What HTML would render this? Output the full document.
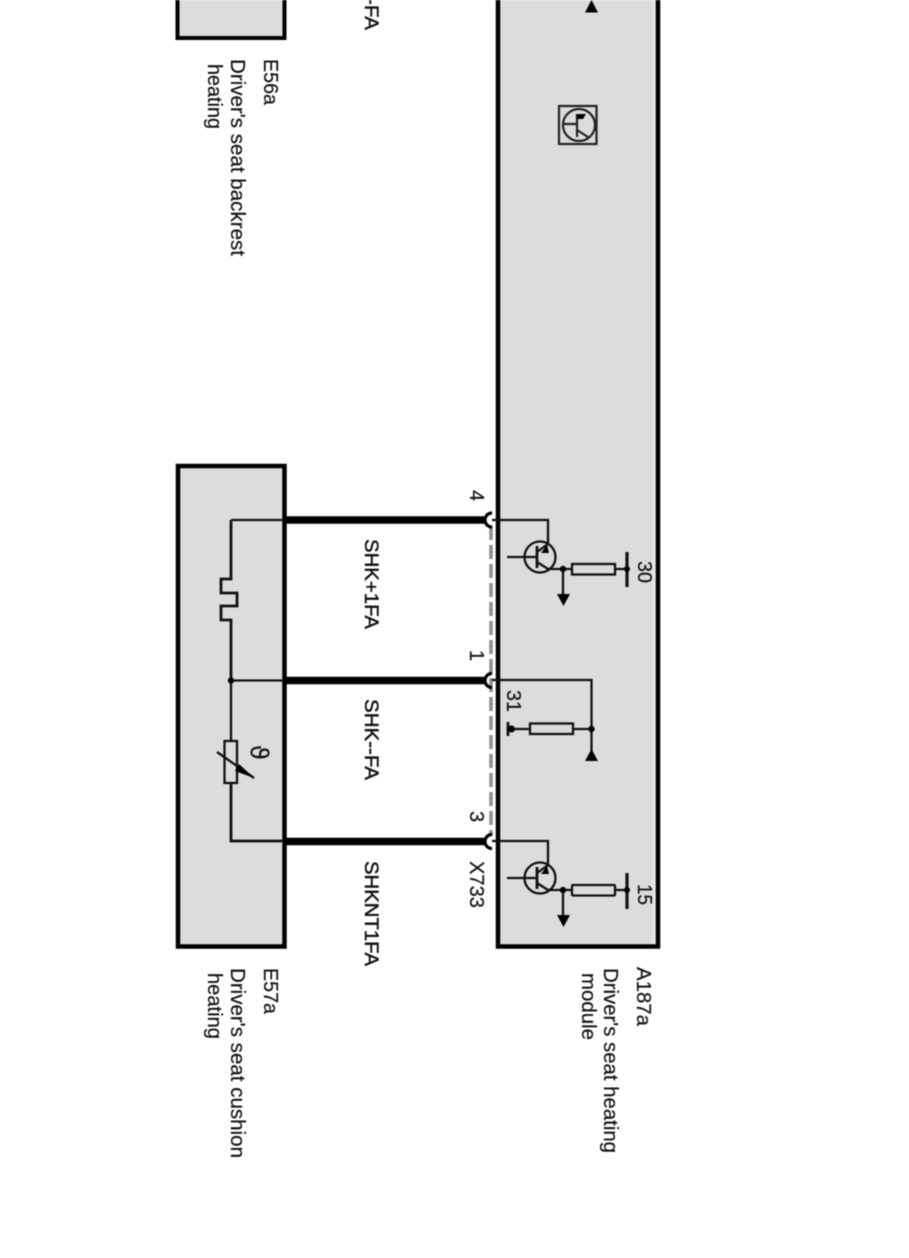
<!DOCTYPE html>
<html>
<head>
<meta charset="utf-8">
<style>
html,body{margin:0;padding:0;background:#fff;width:909px;height:1258px;overflow:hidden}
svg{display:block;filter:blur(0.4px)}
text{font-family:"Liberation Sans",sans-serif;font-size:20px;fill:#111;stroke:#111;stroke-width:.2}
.w{font-size:19.5px;stroke:#111;stroke-width:.45}
</style>
</head>
<body>
<svg width="909" height="1258" viewBox="0 0 909 1258" xmlns="http://www.w3.org/2000/svg">
<rect width="909" height="1258" fill="#fff"/>

<!-- boxes -->
<rect x="177.500" y="-10" width="107" height="48" fill="#dcdcdc" stroke="#000" stroke-width="4"/>
<rect x="178" y="466" width="106.500" height="480.500" fill="#dcdcdc" stroke="#000" stroke-width="4.500"/>
<rect x="498" y="-10" width="160" height="956.500" fill="#dcdcdc" stroke="#000" stroke-width="4.500"/>
<rect x="652" y="0" width="3.500" height="944" fill="#e6e6e6"/>

<!-- dashed line -->
<line x1="491" y1="526" x2="491" y2="836" stroke="#8f8f8f" stroke-width="3.500" stroke-dasharray="14 5"/>

<!-- thick wires -->
<g stroke="#000" stroke-width="7.500" fill="none">
<line x1="284" y1="520" x2="486" y2="520"/>
<line x1="284" y1="680.500" x2="486" y2="680.500"/>
<line x1="284" y1="841.500" x2="486" y2="841.500"/>
</g>
<!-- connector cups -->
<g stroke="#000" stroke-width="3.200" fill="none">
<path d="M492 513 A7 7 0 0 0 492 527"/>
<path d="M492 673.500 A7 7 0 0 0 492 687.500"/>
<path d="M492 834.500 A7 7 0 0 0 492 848.500"/>
</g>

<!-- E57a interior -->
<g stroke="#111" stroke-width="2.300" fill="none">
<path d="M284 520 H231"/>
<path d="M231 520 V579 H221 V593 H237 V606 H221 V620 H231 V680" stroke-width="2.800"/>
<path d="M284 680.500 H231 V741"/>
<rect x="224.500" y="741" width="12.500" height="42" fill="#dcdcdc"/>
<path d="M231 783 V841 H284" stroke-width="2.800"/>
<path d="M217 752 L254 778"/>
</g>
<polygon points="254,778 239,764 235,771" fill="#000"/>
<circle cx="231" cy="680.500" r="3.200" fill="#000"/>

<!-- Transistor 1 -->
<g stroke="#111" stroke-width="2.300" fill="none">
<path d="M492 520 H548 V544 L537 552"/>
<circle cx="540" cy="557" r="15.500"/>
<path d="M507 557 H537"/>
<path d="M537 546 V568" stroke-width="2.800"/>
<path d="M537 562 L548 569 H572"/>
<rect x="572" y="564" width="43" height="10.500" fill="#dcdcdc"/>
<path d="M615 569 H627"/>
<path d="M563 569 V595"/>
<path d="M627 552 V587" stroke-width="3.200"/>
</g>
<polygon points="547,545 541,553 549,553" fill="#000"/>
<polygon points="557,594 570,594 563.500,606" fill="#000"/>
<circle cx="563" cy="569" r="3.200" fill="#000"/>
<circle cx="627" cy="569" r="3" fill="#000"/>

<!-- Middle -->
<g stroke="#111" stroke-width="2.300" fill="none">
<path d="M492 680 H591.500 V751"/>
<path d="M512 729 H530"/>
<rect x="530" y="723.500" width="43" height="10.500" fill="#dcdcdc"/>
<path d="M573 729 H591"/>
<path d="M508 722 V736" stroke-width="2.800"/>
</g>
<polygon points="585,761 598,761 591.500,749" fill="#000"/>
<circle cx="591.500" cy="729" r="3.200" fill="#000"/>
<circle cx="511.500" cy="729" r="3.500" fill="#000"/>

<!-- Transistor 3 -->
<g stroke="#111" stroke-width="2.300" fill="none">
<path d="M492 841 H548 V865 L537 873"/>
<circle cx="540" cy="878" r="15.500"/>
<path d="M507 878 H537"/>
<path d="M537 867 V889" stroke-width="2.800"/>
<path d="M537 883 L548 890 H572"/>
<rect x="572" y="885" width="43" height="10.500" fill="#dcdcdc" rx="1"/>
<path d="M615 890 H627"/>
<path d="M563 890 V915"/>
<path d="M627 873 V909" stroke-width="3.200"/>
</g>
<polygon points="547,866 541,874 549,874" fill="#000"/>
<polygon points="557,915 570,915 563.500,927" fill="#000"/>
<circle cx="563" cy="890" r="3.200" fill="#000"/>
<circle cx="627" cy="890" r="3" fill="#000"/>

<!-- Top triangle -->
<polygon points="585,12.500 598,12.500 591.500,0" fill="#000"/>

<!-- Transistor icon -->
<g stroke="#222" fill="none">
<rect x="559" y="106" width="37.500" height="38" stroke-width="2.200"/>
<circle cx="579" cy="125" r="16" stroke-width="2.200"/>
<path d="M563 124 H577 M577 114 V137 M577 130 L588 137" stroke-width="2.200"/>
</g>
<polygon points="577,114 586,114 583,119 577,119" fill="#000"/>

<g transform="translate(2,0)">
<text transform="translate(249,745) rotate(90)" style="font-family:'DejaVu Sans',sans-serif;font-size:24px">ϑ</text>

<!-- Wire labels -->
<text class="w" transform="translate(363,-51) rotate(90)" textLength="81" lengthAdjust="spacingAndGlyphs">SHK--FA</text>
<text class="w" transform="translate(363,539) rotate(90)" textLength="90" lengthAdjust="spacingAndGlyphs">SHK+1FA</text>
<text class="w" transform="translate(363,699) rotate(90)" textLength="81" lengthAdjust="spacingAndGlyphs">SHK--FA</text>
<text class="w" transform="translate(363,861) rotate(90)" textLength="105" lengthAdjust="spacingAndGlyphs">SHKNT1FA</text>

<!-- Pin labels -->
<text transform="translate(468,490) rotate(90)">4</text>
<text transform="translate(468,650) rotate(90)">1</text>
<text transform="translate(468,811) rotate(90)">3</text>
<text transform="translate(468,861) rotate(90)" textLength="47" lengthAdjust="spacingAndGlyphs">X733</text>
<text transform="translate(636,561) rotate(90)" textLength="22" lengthAdjust="spacingAndGlyphs">30</text>
<text transform="translate(636,884) rotate(90)" textLength="21" lengthAdjust="spacingAndGlyphs">15</text>
<text transform="translate(505,690) rotate(90)" textLength="22" lengthAdjust="spacingAndGlyphs">31</text>

<!-- Component labels -->
<text transform="translate(262,59) rotate(90)" textLength="46" lengthAdjust="spacingAndGlyphs">E56a</text>
<text transform="translate(229,59) rotate(90)" textLength="197" lengthAdjust="spacingAndGlyphs">Driver's seat backrest</text>
<text transform="translate(206,64) rotate(90)" textLength="65" lengthAdjust="spacingAndGlyphs">heating</text>

<text transform="translate(262,968) rotate(90)" textLength="46" lengthAdjust="spacingAndGlyphs">E57a</text>
<text transform="translate(229,968) rotate(90)" textLength="190" lengthAdjust="spacingAndGlyphs">Driver's seat cushion</text>
<text transform="translate(206,973) rotate(90)" textLength="66" lengthAdjust="spacingAndGlyphs">heating</text>

<text transform="translate(635,967) rotate(90)" textLength="59" lengthAdjust="spacingAndGlyphs">A187a</text>
<text transform="translate(602,968) rotate(90)" textLength="185" lengthAdjust="spacingAndGlyphs">Driver's seat heating</text>
<text transform="translate(580,973) rotate(90)" textLength="67" lengthAdjust="spacingAndGlyphs">module</text>
</g>
</svg>
</body>
</html>
